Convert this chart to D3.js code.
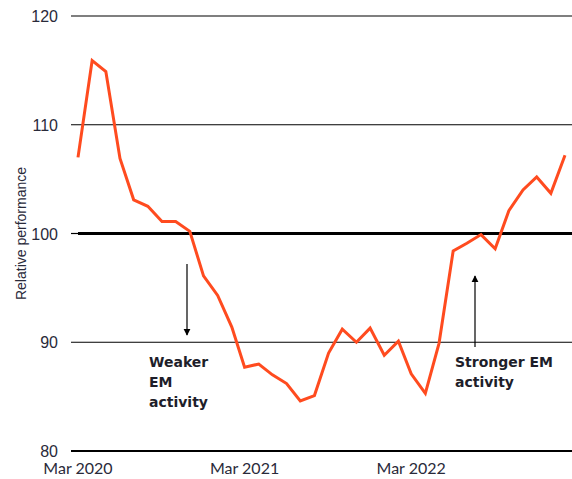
<!DOCTYPE html>
<html>
<head>
<meta charset="utf-8">
<script src="https://cdn.jsdelivr.net/npm/d3@7"></script>
<style>
  body { margin: 0; background: #fff; }
  text { font-family: "Liberation Sans", Arial, sans-serif; }
</style>
</head>
<body>
<div id="chart"></div>
<script>
// monthly values, Mar 2020 .. Feb 2023
var startMonth = "2020-03";
var perf = [107.0, 115.9, 114.9, 106.9, 103.1, 102.5, 101.1, 101.1, 100.2, 96.1, 94.3, 91.4,
            87.7, 88.0, 87.0, 86.2, 84.6, 85.1, 89.0, 91.2, 90.0, 91.3, 88.8, 90.1,
            87.1, 85.3, 89.9, 98.4, 99.1, 99.9, 98.6, 102.1, 104.0, 105.2, 103.7, 107.2];
var yTicks = [80, 90, 100, 110, 120];
var xTickLabels = ["Mar 2020", "Mar 2021", "Mar 2022"];
var weakerText = ["Weaker", "EM", "activity"];
var strongerText = ["Stronger EM", "activity"];

var W = 572, H = 479;
var parseMonth = d3.timeParse("%Y-%m");
var t0 = parseMonth(startMonth);
var data = perf.map(function(v, i) { return {date: d3.timeMonth.offset(t0, i), value: v}; });

var svg = d3.select("#chart").append("svg")
    .attr("width", W).attr("height", H);

var x = d3.scaleTime()
    .domain([t0, d3.timeMonth.offset(t0, perf.length - 1)])
    .range([78, 565]);
var y = d3.scaleLinear().domain([80, 120]).range([451, 16]);

// gridlines
svg.append("g").selectAll("line")
    .data(yTicks)
    .enter().append("line")
    .attr("x1", function(d) { return d == 100 ? 78 : 71; })
    .attr("x2", W)
    .attr("y1", function(d) { return y(d); })
    .attr("y2", function(d) { return y(d); })
    .attr("stroke", "#000")
    .attr("stroke-width", function(d) { return d == 100 ? 3.2 : (d == 80 ? 2.2 : 1.2); });

// thin tick stub at 100
svg.append("line")
    .attr("x1", 71).attr("x2", 78)
    .attr("y1", y(100)).attr("y2", y(100))
    .attr("stroke", "#000").attr("stroke-width", 1.2);

// y labels
svg.append("g").selectAll("text")
    .data(yTicks)
    .enter().append("text")
    .attr("x", 58)
    .attr("y", function(d) { return y(d) + 6; })
    .attr("text-anchor", "end")
    .style("font-size", "16px")
    .attr("fill", "#2a2a3a")
    .text(function(d) { return d; });

svg.append("text")
    .attr("transform", "translate(26," + (y(100) - 0) + ") rotate(-90)")
    .attr("text-anchor", "middle")
    .style("font-size", "14px")
    .attr("fill", "#2a2a3a")
    .text("Relative performance");

// x labels
svg.append("g").selectAll("text")
    .data(xTickLabels)
    .enter().append("text")
    .attr("x", function(d, i) { return x(d3.timeMonth.offset(t0, i * 12)); })
    .attr("y", 474)
    .attr("text-anchor", "middle")
    .style("font-family", "Lato, sans-serif")
    .style("font-size", "16px")
    .attr("fill", "#2a2a3a")
    .text(function(d) { return d; });

// the line
svg.append("path")
    .datum(data)
    .attr("d", d3.line()
        .x(function(d) { return x(d.date); })
        .y(function(d) { return y(d.value); }))
    .attr("fill", "none")
    .attr("stroke", "#ff4b1f")
    .attr("stroke-width", 3)
    .attr("stroke-linejoin", "miter");

// arrows
var defs = svg.append("defs");
defs.append("marker")
    .attr("id", "arr")
    .attr("viewBox", "0 0 10 10")
    .attr("refX", 9).attr("refY", 5)
    .attr("markerWidth", 6).attr("markerHeight", 6)
    .attr("orient", "auto")
    .append("path").attr("d", "M0,0L10,5L0,10z").attr("fill", "#000");

svg.append("line")
    .attr("x1", 187).attr("x2", 187)
    .attr("y1", 264).attr("y2", 335)
    .attr("stroke", "#000").attr("stroke-width", 1.2)
    .attr("marker-end", "url(#arr)");

svg.append("line")
    .attr("x1", 475).attr("x2", 475)
    .attr("y1", 347).attr("y2", 276)
    .attr("stroke", "#000").attr("stroke-width", 1.2)
    .attr("marker-end", "url(#arr)");

// annotation text
svg.append("g").selectAll("text")
    .data(weakerText)
    .enter().append("text")
    .attr("x", 149)
    .attr("y", function(d, i) { return 367 + i * 20; })
    .style("font-family", "'DejaVu Sans', sans-serif")
    .style("font-size", "14px")
    .style("font-weight", "bold")
    .attr("fill", "#1e1e2a")
    .text(function(d) { return d; });

svg.append("g").selectAll("text")
    .data(strongerText)
    .enter().append("text")
    .attr("x", 455)
    .attr("y", function(d, i) { return 367 + i * 20; })
    .style("font-family", "'DejaVu Sans', sans-serif")
    .style("font-size", "14px")
    .style("font-weight", "bold")
    .attr("fill", "#1e1e2a")
    .text(function(d) { return d; });
</script>
</body>
</html>
